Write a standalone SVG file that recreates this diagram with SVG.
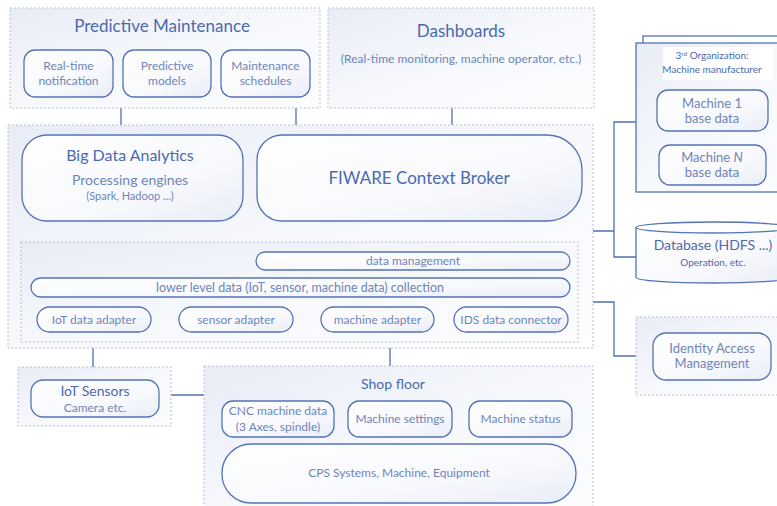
<svg xmlns="http://www.w3.org/2000/svg" width="777" height="506" viewBox="0 0 777 506">
<defs>
<linearGradient id="gPanel" x1="0" y1="0" x2="1" y2="1">
<stop offset="0" stop-color="#e8ecf6"/>
<stop offset="0.5" stop-color="#f6f8fc"/>
<stop offset="1" stop-color="#fdfdff"/>
</linearGradient>
<linearGradient id="gNode" x1="0" y1="0" x2="1" y2="1">
<stop offset="0" stop-color="#ffffff"/>
<stop offset="0.6" stop-color="#f8f9fd"/>
<stop offset="1" stop-color="#e9edf7"/>
</linearGradient>
<style>
.panel{fill:url(#gPanel);stroke:#b7bfcf;stroke-width:1;stroke-dasharray:2 2}
.node{fill:url(#gNode);stroke:#5473b5;stroke-width:1.3}
.solid{fill:#ffffff;stroke:#5473b5;stroke-width:1.3}
.conn{fill:none;stroke:#4f6fb3;stroke-width:1.3}
text{font-family:Lato,"Open Sans","Liberation Sans",sans-serif;text-anchor:middle;fill:#4b6aae}
.sub{fill:#6f85b7}
.t17{font-size:17px}
.t16{font-size:16px}
.t14{font-size:14px}
.t13{font-size:13px}
.t12{font-size:12px}
.t125{font-size:12.5px}
.t11{font-size:11px}
.t10{font-size:10px}
</style>
</defs>
<rect width="777" height="506" fill="#ffffff"/>

<g id="connectors">
<path class="conn" d="M121,108V135"/>
<path class="conn" d="M296,108V135"/>
<path class="conn" d="M452,108V135"/>
<path class="conn" d="M243,176H257"/>
<path class="conn" d="M126,221V231H614"/>
<path class="conn" d="M418,221V231"/>
<path class="conn" d="M270,231V242"/>
<path class="conn" d="M636,122H614V257H636"/>
<path class="conn" d="M593,302H614V356H636"/>
<path class="conn" d="M93,342V367"/>
<path class="conn" d="M390,342V366"/>
<path class="conn" d="M171,395H204"/>
</g>

<g id="predictive-maintenance">
<rect class="panel" x="10" y="8" width="310" height="100"/>
<text class="t17" x="162" y="32">Predictive Maintenance</text>
<g id="realtime-notification">
<rect class="node" x="24" y="50" width="89" height="47" rx="11"/>
<text class="t12 sub" x="68.5" y="70">Real-time</text>
<text class="t12 sub" x="68.5" y="85">notification</text>
</g>
<g id="predictive-models">
<rect class="node" x="123" y="50" width="88" height="47" rx="11"/>
<text class="t12 sub" x="167" y="70">Predictive</text>
<text class="t12 sub" x="167" y="85">models</text>
</g>
<g id="maintenance-schedules">
<rect class="node" x="221" y="50" width="89" height="47" rx="11"/>
<text class="t12 sub" x="265.5" y="70">Maintenance</text>
<text class="t12 sub" x="265.5" y="85">schedules</text>
</g>
</g>

<g id="dashboards">
<rect class="panel" x="328" y="8" width="266" height="100"/>
<text class="t17" x="461" y="37">Dashboards</text>
<text class="t12 sub" x="461" y="63">(Real-time monitoring, machine operator, etc.)</text>
</g>

<g id="platform">
<rect class="panel" x="8" y="125" width="585" height="223"/>
<g id="big-data-analytics">
<rect class="node" x="22" y="135" width="221" height="86" rx="25"/>
<text class="t16" x="130" y="161">Big Data Analytics</text>
<text class="t14 sub" x="130" y="185">Processing engines</text>
<text class="t11 sub" x="130" y="200">(Spark, Hadoop ...)</text>
</g>
<g id="fiware-context-broker">
<path class="node" d="M282,135H547A35,35 0 0 1 582,170V186A35,35 0 0 1 547,221H282A25,25 0 0 1 257,196V160A25,25 0 0 1 282,135Z"/>
<text class="t17" x="419" y="184">FIWARE Context Broker</text>
</g>
<g id="data-layer">
<rect class="panel" x="21" y="242" width="557" height="100"/>
<g id="data-management">
<rect class="node" x="256" y="252" width="314" height="18" rx="9"/>
<text class="t12 sub" x="413" y="265">data management</text>
</g>
<g id="lower-level-collection">
<rect class="node" x="31" y="278" width="539" height="19" rx="9.5"/>
<text class="t125 sub" x="300" y="291.5">lower level data (IoT, sensor, machine data) collection</text>
</g>
<g id="iot-data-adapter">
<rect class="node" x="37" y="307" width="114" height="25" rx="12.5"/>
<text class="t12 sub" x="94" y="323.5">IoT data adapter</text>
</g>
<g id="sensor-adapter">
<rect class="node" x="179" y="307" width="114" height="25" rx="12.5"/>
<text class="t12 sub" x="236" y="323.5">sensor adapter</text>
</g>
<g id="machine-adapter">
<rect class="node" x="321" y="307" width="113" height="25" rx="12.5"/>
<text class="t12 sub" x="377.5" y="323.5">machine adapter</text>
</g>
<g id="ids-data-connector">
<rect class="node" x="454" y="307" width="114" height="25" rx="12.5"/>
<text class="t12 sub" x="511" y="323.5">IDS data connector</text>
</g>
</g>
</g>

<g id="third-organization">
<rect class="solid" x="643" y="36" width="150" height="150"/>
<rect x="636" y="43" width="157" height="149" fill="url(#gPanel)" stroke="#5473b5" stroke-width="1.3"/>
<rect x="663" y="47" width="110" height="33" fill="#ffffff"/>
<text class="t10" x="712" y="59">3<tspan font-size="6.5" dy="-3.5">rd</tspan><tspan dy="3.5"> Organization:</tspan></text>
<text class="t10" x="712" y="73">Machine manufacturer</text>
<g id="machine-1-base-data">
<rect class="node" x="657" y="90" width="111" height="41" rx="11"/>
<text class="t13 sub" x="712" y="108">Machine 1</text>
<text class="t13 sub" x="712" y="123">base data</text>
</g>
<g id="machine-n-base-data">
<rect class="node" x="659" y="145" width="107" height="40" rx="11"/>
<text class="t13 sub" x="712" y="162">Machine <tspan font-style="italic">N</tspan></text>
<text class="t13 sub" x="712" y="177">base data</text>
</g>
</g>

<g id="database">
<path d="M636,227.5V277.5A77,5.5 0 0 0 790,277.5V227.5" fill="url(#gNode)" stroke="#5473b5" stroke-width="1.3"/>
<ellipse cx="713" cy="227.5" rx="77" ry="5.5" fill="#ffffff" stroke="#5473b5" stroke-width="1.3"/>
<text class="t14" x="713" y="250">Database (HDFS ...)</text>
<text class="t10" x="713" y="266">Operation, etc.</text>
</g>

<g id="identity-access-management">
<rect class="panel" x="636" y="317" width="150" height="78"/>
<rect class="node" x="653" y="333" width="118" height="47" rx="13"/>
<text class="t13 sub" x="712" y="353">Identity Access</text>
<text class="t13 sub" x="712" y="368">Management</text>
</g>

<g id="iot-sensors">
<rect class="panel" x="18" y="367" width="153" height="59"/>
<rect class="node" x="31" y="380" width="128" height="37" rx="12"/>
<text class="t14" x="95" y="396">IoT Sensors</text>
<text class="t12 sub" x="95" y="411.5">Camera etc.</text>
</g>

<g id="shop-floor">
<rect class="panel" x="204" y="366" width="389" height="150"/>
<text class="t14" x="393" y="389">Shop floor</text>
<g id="cnc-machine-data">
<rect class="node" x="222" y="401" width="112" height="36" rx="11"/>
<text class="t12 sub" x="278" y="415">CNC machine data</text>
<text class="t12 sub" x="278" y="431">(3 Axes, spindle)</text>
</g>
<g id="machine-settings">
<rect class="node" x="348" y="401" width="104" height="36" rx="11"/>
<text class="t12 sub" x="400" y="423">Machine settings</text>
</g>
<g id="machine-status">
<rect class="node" x="469" y="401" width="103" height="36" rx="11"/>
<text class="t12 sub" x="520.5" y="423">Machine status</text>
</g>
<g id="cps-systems">
<rect class="node" x="222" y="444" width="354" height="59" rx="29"/>
<text class="t12 sub" x="399" y="477">CPS Systems, Machine, Equipment</text>
</g>
</g>
</svg>
